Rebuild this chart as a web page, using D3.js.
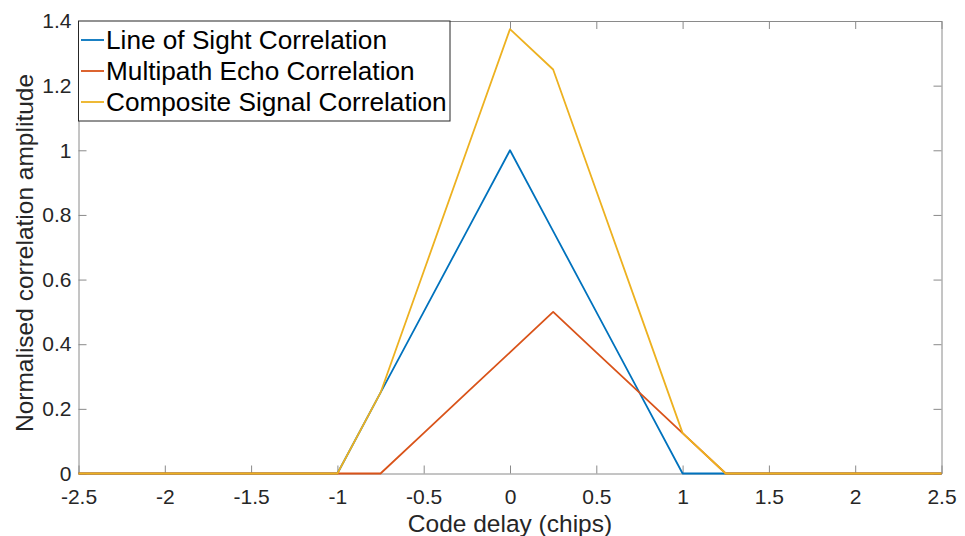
<!DOCTYPE html>
<html><head><meta charset="utf-8">
<script src="https://cdn.jsdelivr.net/npm/d3@7"></script>
<style>body{margin:0;background:#fff;} svg{display:block;font-family:"Liberation Sans",Arial,sans-serif;}</style>
</head><body>
<script>
const xValues = [-2.5,-2.25,-2,-1.75,-1.5,-1.25,-1,-0.75,-0.5,-0.25,0,0.25,0.5,0.75,1,1.25,1.5,1.75,2,2.25,2.5];
const losValues = [0,0,0,0,0,0,0,0.25,0.5,0.75,1,0.75,0.5,0.25,0,0,0,0,0,0,0];
const multipathValues = [0,0,0,0,0,0,0,0,0.125,0.25,0.375,0.5,0.375,0.25,0.125,0,0,0,0,0,0];
const compositeValues = [0,0,0,0,0,0,0,0.25,0.625,1.0,1.375,1.25,0.875,0.5,0.125,0,0,0,0,0,0];
const seriesNames = ["Line of Sight Correlation","Multipath Echo Correlation","Composite Signal Correlation"];
const seriesColors = ["#0072BD","#D95319","#EDB120"];
const xTicks = [-2.5,-2,-1.5,-1,-0.5,0,0.5,1,1.5,2,2.5];
const yTicks = [0,0.2,0.4,0.6,0.8,1,1.2,1.4];
const xLabel = "Code delay (chips)";
const yLabel = "Normalised correlation amplitude";

const W=965,H=536;
const L=78.5,R=941.5,T=21,B=473.5;
const svg=d3.select("body").append("svg").attr("width",W).attr("height",H);
const x=d3.scaleLinear().domain([-2.5,2.5]).range([L,R]);
const y=d3.scaleLinear().domain([0,1.4]).range([B,T]);
const axisColor="#8a8a8a", textColor="#262626";
const fs=21;

function styleAxis(g){g.attr("font-size",fs).attr("font-family","Liberation Sans, Arial, sans-serif");g.select(".domain").attr("stroke",axisColor);g.selectAll(".tick line").attr("stroke",axisColor);g.selectAll("text").attr("fill",textColor);}
const fmt=d=>String(d);
svg.append("g").attr("transform",`translate(0,${B})`).call(d3.axisBottom(x).tickValues(xTicks).tickFormat(fmt).tickSizeInner(-8).tickSizeOuter(0).tickPadding(16)).call(styleAxis);
svg.append("g").attr("transform",`translate(0,${T})`).call(d3.axisTop(x).tickValues(xTicks).tickFormat("").tickSizeInner(-8).tickSizeOuter(0)).call(styleAxis);
svg.append("g").attr("transform",`translate(${L},0)`).call(d3.axisLeft(y).tickValues(yTicks).tickFormat(fmt).tickSizeInner(-8).tickSizeOuter(0).tickPadding(7)).call(styleAxis);
svg.append("g").attr("transform",`translate(${R},0)`).call(d3.axisRight(y).tickValues(yTicks).tickFormat("").tickSizeInner(-8).tickSizeOuter(0)).call(styleAxis);

const series=[losValues,multipathValues,compositeValues];
const line=d3.line().x((d,i)=>x(xValues[i])).y(d=>y(d));
series.forEach((s,k)=>{
  svg.append("path").datum(s).attr("d",line).attr("fill","none").attr("stroke",seriesColors[k]).attr("stroke-width",1.8).attr("stroke-linejoin","round");
});

svg.append("text").attr("x",(L+R)/2).attr("y",532).attr("text-anchor","middle").attr("font-size",24.5).attr("fill",textColor).text(xLabel);
svg.append("text").attr("transform",`translate(33,253) rotate(-90)`).attr("text-anchor","middle").attr("font-size",24.5).attr("fill",textColor).text(yLabel);

// legend
const lg=svg.append("g");
lg.append("rect").attr("x",78.5).attr("y",21).attr("width",371.5).attr("height",100).attr("fill","#fff").attr("stroke","#262626").attr("stroke-width",1);
seriesNames.forEach((n,k)=>{
  const yy=40+k*31;
  lg.append("line").attr("x1",81).attr("x2",104).attr("y1",yy).attr("y2",yy).attr("stroke",seriesColors[k]).attr("stroke-width",1.8);
  lg.append("text").attr("x",106).attr("y",yy).attr("dy","0.36em").attr("font-size",26.2).attr("fill","#000").text(n);
});
</script>
</body></html>
